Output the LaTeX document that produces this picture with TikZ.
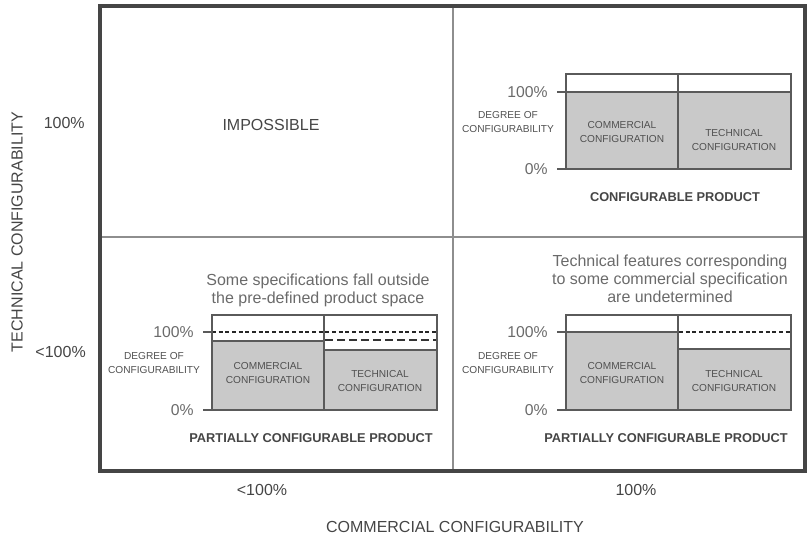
\documentclass[tikz,border=0pt]{standalone}
\usepackage{fontspec}
\setmainfont{Liberation Sans}
\usepackage{xcolor}

\definecolor{framegray}{HTML}{454545}
\definecolor{linegray}{HTML}{8E8E8E}
\definecolor{cellgray}{HTML}{C9C9C9}
\definecolor{boxgray}{HTML}{5A5A5A}
\definecolor{textgray}{HTML}{505050}
\definecolor{notegray}{HTML}{6A6A6A}

\tikzset{
  axislabel/.style={font=\fontsize{12}{14}\selectfont, text=framegray, inner sep=0pt},
  pct/.style={font=\fontsize{11.8}{13}\selectfont, text=notegray, inner sep=0pt, anchor=east},
  cellnote/.style={font=\fontsize{7.6}{10}\selectfont, text=textgray, align=center, inner sep=0pt},
  title/.style={font=\bfseries\fontsize{9.6}{11}\selectfont, text=framegray, inner sep=0pt},
  remark/.style={font=\fontsize{12}{13.5}\selectfont, text=notegray, align=center, inner sep=0pt},
  boxline/.style={draw=boxgray, line width=0.9pt},
  cellfill/.style={fill=cellgray, draw=boxgray, line width=0.9pt},
  shortdash/.style={draw=black!85, line width=1.3pt, dash pattern=on 3pt off 2pt},
  longdash/.style={draw=black!80, line width=1.4pt, dash pattern=on 6pt off 3pt}
}

\begin{document}
\begin{tikzpicture}[x=0.75pt, y=-0.75pt]
\useasboundingbox (0,0) rectangle (808,540);

% quadrant grid
\draw[linegray, line width=1.4pt] (453,6) -- (453,471) (100,237) -- (805,237);
\draw[framegray, line width=2.4pt] (100,6) rectangle (805,471);

% axis labels
\node[axislabel, rotate=90] (techaxis) at (17,232) {TECHNICAL CONFIGURABILITY};
\node[axislabel, anchor=east] (techfull) at (85,123) {100\%};
\node[axislabel, anchor=east] (techpart) at (86,352) {<100\%};
\node[axislabel] (commpart) at (262,490) {<100\%};
\node[axislabel] (commfull) at (636,490) {100\%};
\node[axislabel] (commaxis) at (455,527) {COMMERCIAL CONFIGURABILITY};

% top left
\node[font=\fontsize{12}{14}\selectfont, text=framegray, inner sep=0pt] (impossible) at (271,125) {IMPOSSIBLE};

% filled parts of the bars
\filldraw[cellfill] (566,92) rectangle (791,169);
\filldraw[cellfill] (212,341) rectangle (324,410);
\filldraw[cellfill] (324,350) rectangle (437,410);
\filldraw[cellfill] (566,332) rectangle (678,410);
\filldraw[cellfill] (678,349) rectangle (791,410);

% 100% marks that are not reached
\draw[shortdash] (212,332) -- (437,332);
\draw[longdash] (325,340) -- (437,340);
\draw[shortdash] (679,332) -- (791,332);

% bar frames, scales and labels
\foreach \px/\py/\hy/\by/\nm in {566/74/92/169/tr, 212/315/332/410/bl, 566/315/332/410/br}{
  \draw[boxline] (\px,\py) rectangle (\px+225,\by);
  \draw[boxline] (\px+112,\py) -- (\px+112,\by);
  \draw[boxline] (\px-9,\hy) -- (\px,\hy);
  \draw[boxline] (\px-9,\by) -- (\px,\by);
  \node[pct] (\nm-hi) at (\px-18,\hy) {100\%};
  \node[pct] (\nm-lo) at (\px-18,\by) {0\%};
  \node[cellnote] (\nm-deg) at (\px-58,\py+48) {DEGREE OF\\CONFIGURABILITY};
  \node[cellnote] (\nm-com) at (\px+56,\py+58) {COMMERCIAL\\CONFIGURATION};
  \node[cellnote] (\nm-tec) at (\px+168,\py+66) {TECHNICAL\\CONFIGURATION};
}

% product types
\node[title] (tr-title) at (675,197) {CONFIGURABLE PRODUCT};
\node[title] (bl-title) at (311,438) {PARTIALLY CONFIGURABLE PRODUCT};
\node[title] (br-title) at (666,438) {PARTIALLY CONFIGURABLE PRODUCT};

% remarks
\node[remark] (bl-remark) at (318,290) {Some specifications fall outside\\the pre-defined product space};
\node[remark] (br-remark) at (670,279) {Technical features corresponding\\to some commercial specification\\are undetermined};
\end{tikzpicture}
\end{document}
